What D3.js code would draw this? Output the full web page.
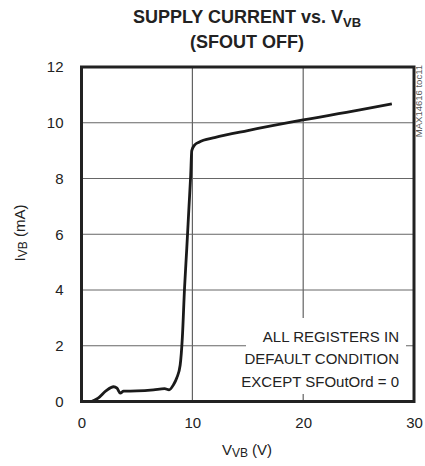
<!DOCTYPE html>
<html><head><meta charset="utf-8">
<script src="https://cdn.jsdelivr.net/npm/d3@7"></script>
<style>body{margin:0;background:#fff}svg{display:block}text{font-family:"Liberation Sans",Arial,sans-serif}</style>
</head><body>
<script>
const vvb = [0.9, 1.5, 2.2, 2.9, 3.2, 3.5, 3.8, 5.0, 6.5, 7.5, 7.9, 8.3, 8.6, 8.9, 9.1, 9.3, 9.5, 9.7, 9.85, 9.95, 10.2, 10.6, 11.0, 12.0, 15.0, 20.0, 25.0, 28.0];
const ivb = [0.0, 0.12, 0.38, 0.53, 0.48, 0.3, 0.37, 0.38, 0.42, 0.46, 0.42, 0.6, 0.85, 1.3, 2.3, 4.1, 5.5, 7.0, 8.1, 9.0, 9.2, 9.3, 9.37, 9.47, 9.72, 10.1, 10.45, 10.68];
const xTicks = [0, 10, 20, 30];
const yTicks = [0, 2, 4, 6, 8, 10, 12];
const noteLines = ["ALL REGISTERS IN", "DEFAULT CONDITION", "EXCEPT SFOutOrd = 0"];

const W = 425, H = 466;
const svg = d3.select("body").append("svg").attr("width", W).attr("height", H);
const x = d3.scaleLinear().domain([0, 30]).range([81.5, 414]);
const y = d3.scaleLinear().domain([0, 12]).range([401.5, 67]);

// grid
svg.append("g").selectAll("line.v").data(xTicks.slice(1, -1)).join("line")
  .attr("x1", d => x(d)).attr("x2", d => x(d)).attr("y1", y(12)).attr("y2", y(0))
  .attr("stroke", "#444").attr("stroke-width", 1);
svg.append("g").selectAll("line.h").data(yTicks.slice(1, -1)).join("line")
  .attr("x1", x(0)).attr("x2", x(30)).attr("y1", d => y(d)).attr("y2", d => y(d))
  .attr("stroke", "#666").attr("stroke-width", 1);

// note box (white background)
svg.append("rect").attr("x", 246).attr("y", 318).attr("width", 160).attr("height", 76).attr("fill", "#fff");

// curve
const line = d3.line().x((d, i) => x(vvb[i])).y((d, i) => y(ivb[i])).curve(d3.curveMonotoneX);
svg.append("path").datum(ivb).attr("d", line).attr("fill", "none")
  .attr("stroke", "#1a1a1a").attr("stroke-width", 2.8).attr("stroke-linejoin", "round");

// frame
svg.append("rect").attr("x", x(0)).attr("y", y(12)).attr("width", x(30) - x(0)).attr("height", y(0) - y(12))
  .attr("fill", "none").attr("stroke", "#222").attr("stroke-width", 3);

// axes labels via d3 axes
const xAxis = d3.axisBottom(x).tickValues(xTicks).tickSize(0).tickPadding(16).tickFormat(d3.format("d"));
const gx = svg.append("g").attr("transform", `translate(0,${y(0)})`).call(xAxis);
gx.select(".domain").remove();
gx.selectAll("text").attr("font-size", 15).attr("fill", "#222").attr("font-family", "Liberation Sans, Arial, sans-serif");

const yAxis = d3.axisLeft(y).tickValues(yTicks).tickSize(0).tickPadding(18).tickFormat(d3.format("d"));
const gy = svg.append("g").attr("transform", `translate(${x(0)},0)`).call(yAxis);
gy.select(".domain").remove();
gy.selectAll("text").attr("font-size", 15).attr("fill", "#222").attr("font-family", "Liberation Sans, Arial, sans-serif");

// note text
svg.append("g").selectAll("text").data(noteLines).join("text")
  .attr("x", 399).attr("y", (d, i) => 342 + i * 22.3).attr("text-anchor", "end")
  .attr("font-size", 15).attr("fill", "#222").text(d => d);

// title
const t1 = svg.append("text").attr("x", 247).attr("y", 23).attr("text-anchor", "middle")
  .attr("font-size", 18).attr("font-weight", "bold").attr("fill", "#222");
t1.append("tspan").text("SUPPLY CURRENT vs. V");
t1.append("tspan").attr("font-size", 13).attr("dy", 4).text("VB");
svg.append("text").attr("x", 247).attr("y", 48).attr("text-anchor", "middle")
  .attr("font-size", 18).attr("font-weight", "bold").attr("fill", "#222").text("(SFOUT OFF)");

// x title
const xt = svg.append("text").attr("x", 247).attr("y", 455).attr("text-anchor", "middle")
  .attr("font-size", 15).attr("fill", "#222");
xt.append("tspan").text("V");
xt.append("tspan").attr("font-size", 12).attr("dy", 2).text("VB");
xt.append("tspan").attr("dy", -2).text(" (V)");

// y title
const yt = svg.append("text").attr("transform", "translate(25,233) rotate(-90)").attr("text-anchor", "middle")
  .attr("font-size", 15).attr("fill", "#222");
yt.append("tspan").text("I");
yt.append("tspan").attr("font-size", 12).attr("dy", 2).text("VB");
yt.append("tspan").attr("dy", -2).text(" (mA)");

// side id
svg.append("text").attr("transform", "translate(422,65) rotate(-90)").attr("text-anchor", "end")
  .attr("font-size", 9.5).attr("fill", "#555").text("MAX14616 toc11");
</script>
</body></html>
